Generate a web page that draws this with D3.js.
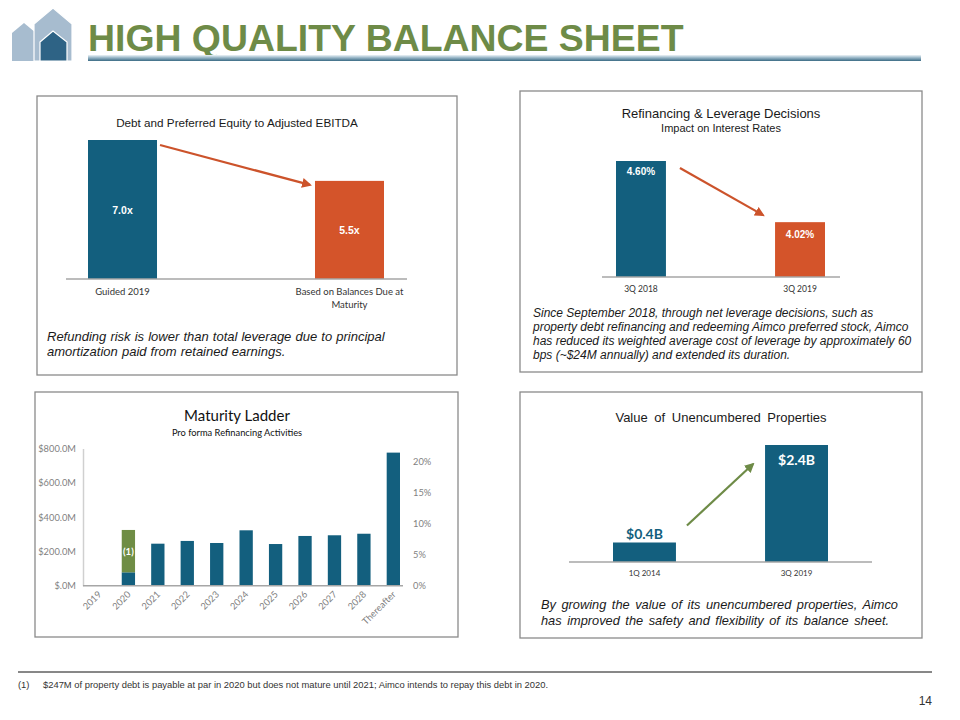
<!DOCTYPE html>
<html><head><meta charset="utf-8">
<script src="https://cdn.jsdelivr.net/npm/d3@7"></script>
<style>
body{margin:0;background:#fff;}
svg{display:block;}
</style></head>
<body>
<script>
// ---------- DATA ----------
const pageTitle = "HIGH QUALITY BALANCE SHEET";
const leverageCats = ["Guided 2019", "Based on Balances Due at Maturity"];
const leverageVals = [7.0, 5.5];
const leverageLabels = ["7.0x", "5.5x"];

const rateCats = ["3Q 2018", "3Q 2019"];
const rateVals = [4.60, 4.02];
const rateLabels = ["4.60%", "4.02%"];

const ladderCats = ["2019","2020","2021","2022","2023","2024","2025","2026","2027","2028","Thereafter"];
const ladderBase = [0, 78, 245, 261, 249, 323, 243, 290, 294, 303, 776];
const ladderRefi = [0, 247, 0, 0, 0, 0, 0, 0, 0, 0, 0];
const ladderLeftTicks = [0, 200, 400, 600, 800];
const ladderLeftTickLabels = ["$.0M", "$200.0M", "$400.0M", "$600.0M", "$800.0M"];
const ladderRightTicks = [0, 5, 10, 15, 20];

const unencCats = ["1Q 2014", "3Q 2019"];
const unencVals = [0.4, 2.4];
const unencLabels = ["$0.4B", "$2.4B"];

const footnote = "$247M of property debt is payable at par in 2020 but does not mature until 2021; Aimco intends to repay this debt in 2020.";

// ---------- STYLE ----------
const BLUE = "#135f7e", ORANGE = "#d4542a", GREEN = "#6f8d45", TITLEGREEN = "#6e8b47";
const ARIAL = "'Liberation Sans', Arial, sans-serif";
const CAL = "Lato, 'Open Sans', sans-serif";

const svg = d3.select("body").append("svg").attr("width", 960).attr("height", 720);
const defs = svg.append("defs");
function arrowMarker(id, color){
  defs.append("marker").attr("id", id).attr("viewBox","0 0 10 10").attr("refX",8).attr("refY",5)
    .attr("markerWidth",4.5).attr("markerHeight",4.5).attr("orient","auto")
    .append("path").attr("d","M0,0 L10,5 L0,10 z").attr("fill", color);
}
arrowMarker("arrO", "#cc532b");
arrowMarker("arrG", "#6e8b47");
const grad = defs.append("linearGradient").attr("id","ul").attr("x1",0).attr("x2",0).attr("y1",0).attr("y2",1);
grad.append("stop").attr("offset","0%").attr("stop-color","#eef4f7");
grad.append("stop").attr("offset","35%").attr("stop-color","#a9c3d2");
grad.append("stop").attr("offset","100%").attr("stop-color","#3b6b85");

// ---------- HEADER ----------
const logo = svg.append("g");
logo.append("path").attr("d","M12,33 L24,23 L36,33 L36,61 L12,61 Z").attr("fill","#a7bccf");
logo.append("path").attr("d","M34,24 L53,8 L72,24 L72,61 L34,61 Z").attr("fill","#a7bccf").attr("stroke","#fff").attr("stroke-width",1.2);
logo.append("path").attr("d","M40,42 L53,31 L67,42 L67,61 L40,61 Z").attr("fill","#2e6385").attr("stroke","#fff").attr("stroke-width",1.2);
svg.append("text").attr("x",88).attr("y",51).text(pageTitle)
  .attr("font-family",ARIAL).attr("font-weight","bold").attr("font-size",37.4).attr("fill",TITLEGREEN);
svg.append("rect").attr("x",88).attr("y",55).attr("width",833).attr("height",6).attr("fill","url(#ul)");

// ---------- PANELS ----------
function box(x,y,w,h){
  svg.append("rect").attr("x",x).attr("y",y).attr("width",w).attr("height",h)
    .attr("fill","none").attr("stroke","#8a8a8a").attr("stroke-width",1.3);
}
function txt(g,x,y,s,opt){
  const t = g.append("text").attr("x",x).attr("y",y).text(s)
    .attr("font-family",opt.f||ARIAL).attr("font-size",opt.s||12).attr("fill",opt.c||"#222")
    .attr("text-anchor",opt.a||"start");
  if(opt.w) t.attr("font-weight",opt.w);
  if(opt.i) t.attr("font-style","italic");
  if(opt.ws) t.attr("word-spacing",opt.ws);
  return t;
}
function baseline(g,x1,x2,y){
  g.append("line").attr("x1",x1).attr("x2",x2).attr("y1",y).attr("y2",y).attr("stroke","#a6a6a6").attr("stroke-width",1.5);
}

// Panel 1
box(37,96,420,279);
{
  const g = svg.append("g");
  const x = d3.scaleBand().domain(leverageCats).range([88,384]).paddingInner(0.696).paddingOuter(0);
  const y = d3.scaleLinear().domain([1.9,7.0]).range([279,140]);
  txt(g,237,127,"Debt and Preferred Equity to Adjusted EBITDA",{s:11.7,a:"middle",c:"#1a1a1a"});
  g.selectAll("rect.b").data(leverageVals).join("rect")
    .attr("x",(d,i)=>x(leverageCats[i])).attr("width",x.bandwidth())
    .attr("y",d=>y(d)).attr("height",d=>y.range()[0]-y(d))
    .attr("fill",(d,i)=>i===0?BLUE:ORANGE);
  baseline(g,66,407,y.range()[0]);
  leverageVals.forEach((d,i)=>{
    txt(g,x(leverageCats[i])+x.bandwidth()/2,(y(d)+y.range()[0])/2+4,leverageLabels[i],{s:10.5,w:"bold",c:"#fff",a:"middle"});
  });
  txt(g,x(leverageCats[0])+x.bandwidth()/2,295,"Guided 2019",{f:CAL,s:9.5,c:"#333",a:"middle"});
  txt(g,x(leverageCats[1])+x.bandwidth()/2,295,"Based on Balances Due at",{f:CAL,s:9.5,c:"#333",a:"middle"});
  txt(g,x(leverageCats[1])+x.bandwidth()/2,308,"Maturity",{f:CAL,s:9.5,c:"#333",a:"middle"});
  g.append("line").attr("x1",x(leverageCats[0])+x.bandwidth()+3).attr("y1",y(leverageVals[0])+5)
    .attr("x2",x(leverageCats[1])-5).attr("y2",y(leverageVals[1])+4)
    .attr("stroke","#cc532b").attr("stroke-width",2.2).attr("marker-end","url(#arrO)");
  txt(g,47,341,"Refunding risk is lower than total leverage  due to principal",{s:13,i:true,c:"#1a1a1a",ws:0.5});
  txt(g,47,356,"amortization paid from retained earnings.",{s:13,i:true,c:"#1a1a1a",ws:0.5});
}

// Panel 2
box(520,91,402,281);
{
  const g = svg.append("g");
  const x = d3.scaleBand().domain(rateCats).range([616,825]).paddingInner(0.686).paddingOuter(0);
  const y = d3.scaleLinear().domain([3.5,4.6]).range([277,161]);
  txt(g,721,118,"Refinancing & Leverage Decisions",{s:13,a:"middle",c:"#1a1a1a"});
  txt(g,721,132,"Impact on Interest Rates",{s:11,a:"middle",c:"#1a1a1a"});
  g.selectAll("rect.b").data(rateVals).join("rect")
    .attr("x",(d,i)=>x(rateCats[i])).attr("width",x.bandwidth())
    .attr("y",d=>y(d)).attr("height",d=>y.range()[0]-y(d))
    .attr("fill",(d,i)=>i===0?BLUE:ORANGE);
  baseline(g,602,840,y.range()[0]);
  rateVals.forEach((d,i)=>{
    txt(g,x(rateCats[i])+x.bandwidth()/2,y(d)+14+i*2,rateLabels[i],{s:10,w:"bold",c:"#fff",a:"middle"});
    txt(g,x(rateCats[i])+x.bandwidth()/2,292,rateCats[i],{f:CAL,s:8.5,c:"#333",a:"middle"});
  });
  g.append("line").attr("x1",x(rateCats[0])+x.bandwidth()+14).attr("y1",y(rateVals[0])+7)
    .attr("x2",x(rateCats[1])-12).attr("y2",y(rateVals[1])-7)
    .attr("stroke","#cc532b").attr("stroke-width",2.2).attr("marker-end","url(#arrO)");
  const lines = ["Since September 2018, through net leverage decisions, such as",
    "property debt refinancing and redeeming Aimco preferred stock, Aimco",
    "has reduced its weighted average cost of leverage by approximately 60",
    "bps (~$24M annually) and extended its duration."];
  lines.forEach((s,i)=>txt(g,533,317+i*14,s,{s:12,i:true,c:"#1a1a1a"}));
}

// Panel 3
box(35,392,423,245);
{
  const g = svg.append("g");
  const x = d3.scaleBand().domain(ladderCats).range([83,409.3]).paddingInner(0.548).paddingOuter(0.316);
  const y = d3.scaleLinear().domain([0,800]).range([585.7,448.5]);
  const yr = d3.scaleLinear().domain([0,20]).range([586,462]);
  txt(g,237,421,"Maturity Ladder",{f:CAL,s:15,a:"middle",c:"#111"});
  txt(g,237,436,"Pro forma Refinancing Activities",{f:CAL,s:9.3,a:"middle",c:"#111"});
  // left axis
  const la = g.append("g").attr("transform","translate(83,0)")
    .call(d3.axisLeft(y).tickValues(ladderLeftTicks).tickSize(0).tickPadding(7).tickFormat((d,i)=>ladderLeftTickLabels[i]));
  la.select(".domain").attr("stroke","#d0d0d0").attr("stroke-width",1.5);
  la.selectAll("text").attr("font-family",CAL).attr("font-size",9.3).attr("fill","#7f7f7f");
  // right axis
  const ra = g.append("g").attr("transform","translate(409,0)")
    .call(d3.axisRight(yr).tickValues(ladderRightTicks).tickSize(0).tickPadding(4).tickFormat(d=>d+"%"));
  ra.select(".domain").remove();
  ra.selectAll("text").attr("font-family",CAL).attr("font-size",9.3).attr("fill","#7f7f7f");
  // bars
  g.selectAll("rect.base").data(ladderBase).join("rect").attr("class","base")
    .attr("x",(d,i)=>x(ladderCats[i])).attr("width",x.bandwidth())
    .attr("y",d=>y(d)).attr("height",d=>y(0)-y(d)).attr("fill",BLUE);
  g.selectAll("rect.refi").data(ladderRefi).join("rect").attr("class","refi")
    .attr("x",(d,i)=>x(ladderCats[i])).attr("width",x.bandwidth())
    .attr("y",(d,i)=>y(ladderBase[i]+d)).attr("height",(d,i)=>y(ladderBase[i])-y(ladderBase[i]+d)).attr("fill",GREEN);
  ladderRefi.forEach((d,i)=>{
    if(d>0) txt(g,x(ladderCats[i])+x.bandwidth()/2,(y(ladderBase[i])+y(ladderBase[i]+d))/2+3.5,"(1)",{f:CAL,s:9.5,w:"bold",c:"#fff",a:"middle"});
  });
  baseline(g,83,403,y(0));
  // x labels
  ladderCats.forEach(c=>{
    const cx = x(c)+x.bandwidth()/2+3, cy = 595;
    g.append("text").attr("transform",`translate(${cx},${cy}) rotate(-45)`).attr("text-anchor","end")
      .attr("font-family",CAL).attr("font-size",9.3).attr("fill","#7f7f7f").text(c);
  });
}

// Panel 4
box(520,392,402,246);
{
  const g = svg.append("g");
  const x = d3.scaleBand().domain(unencCats).range([613,828]).paddingInner(0.586).paddingOuter(0);
  const y = d3.scaleLinear().domain([0,2.4]).range([562,445]);
  txt(g,721,422,"Value of Unencumbered Properties",{s:13,a:"middle",c:"#1a1a1a",ws:3});
  g.selectAll("rect.b").data(unencVals).join("rect")
    .attr("x",(d,i)=>x(unencCats[i])).attr("width",x.bandwidth())
    .attr("y",d=>y(d)).attr("height",d=>y(0)-y(d)).attr("fill",BLUE);
  baseline(g,569,872,y(0));
  txt(g,x(unencCats[0])+x.bandwidth()/2,y(unencVals[0])-4,unencLabels[0],{f:CAL,s:14,w:"bold",c:BLUE,a:"middle"});
  txt(g,x(unencCats[1])+x.bandwidth()/2,y(unencVals[1])+20,unencLabels[1],{f:CAL,s:14,w:"bold",c:"#fff",a:"middle"});
  unencCats.forEach(c=>txt(g,x(c)+x.bandwidth()/2,576,c,{f:CAL,s:8,c:"#333",a:"middle"}));
  g.append("line").attr("x1",x(unencCats[0])+x.bandwidth()+11).attr("y1",y(unencVals[0])-17)
    .attr("x2",x(unencCats[1])-12).attr("y2",y(unencVals[1])+19)
    .attr("stroke","#6e8b47").attr("stroke-width",2.2).attr("marker-end","url(#arrG)");
  txt(g,541,609,"By growing  the value  of its unencumbered  properties,  Aimco",{s:12.8,i:true,c:"#1a1a1a",ws:2});
  txt(g,541,625,"has improved  the safety and flexibility of its balance sheet.",{s:12.8,i:true,c:"#1a1a1a",ws:2});
}

// ---------- FOOTER ----------
svg.append("line").attr("x1",18).attr("x2",932).attr("y1",672).attr("y2",672).attr("stroke","#111").attr("stroke-width",1);
txt(svg,18,688,"(1)",{s:9.4,c:"#333"});
txt(svg,43,688,footnote,{s:9.4,c:"#333"});
txt(svg,932,705,"14",{s:12,c:"#333",a:"end"});
</script>
</body></html>
